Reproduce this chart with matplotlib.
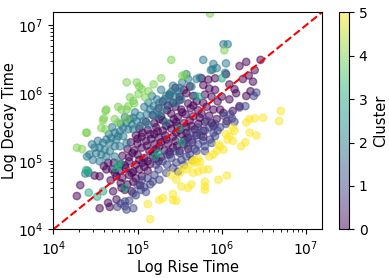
import numpy as np
import matplotlib
matplotlib.use('Agg')
import matplotlib.pyplot as plt

# log10(rise time), log10(decay time), one list per cluster
cluster0 = [
    (5.45, 6.08), (5.55, 6.05), (5.62, 6.10), (5.85, 6.07), (5.92, 6.05),
    (5.38, 5.97), (5.50, 5.95), (5.58, 6.00), (5.66, 5.96), (5.80, 5.98), (5.88, 5.95),
    (5.30, 5.88), (5.42, 5.86), (5.50, 5.90), (5.60, 5.85), (5.70, 5.88), (5.78, 5.86), (5.95, 5.88),
    (5.25, 5.78), (5.35, 5.75), (5.45, 5.80), (5.52, 5.76), (5.63, 5.78), (5.72, 5.75), (5.82, 5.80), (5.90, 5.76),
    (5.18, 5.68), (5.28, 5.66), (5.40, 5.70), (5.48, 5.65), (5.57, 5.69), (5.66, 5.66), (5.76, 5.70), (5.85, 5.67),
    (5.10, 5.58), (5.20, 5.56), (5.30, 5.60), (5.38, 5.55), (5.46, 5.58), (5.55, 5.56), (5.62, 5.60), (5.72, 5.55),
    (5.80, 5.58), (5.88, 5.56),
    (5.02, 5.48), (5.12, 5.46), (5.22, 5.50), (5.30, 5.45), (5.40, 5.48), (5.50, 5.46), (5.58, 5.50), (5.68, 5.47),
    (5.78, 5.45),
    (4.98, 5.38), (5.05, 5.36), (5.15, 5.40), (5.25, 5.35), (5.33, 5.38), (5.42, 5.36), (5.52, 5.40), (5.60, 5.35),
    (5.70, 5.38), (5.78, 5.36),
    (4.92, 5.28), (5.00, 5.26), (5.10, 5.30), (5.20, 5.25), (5.28, 5.28), (5.36, 5.26), (5.45, 5.30), (5.55, 5.25),
    (5.65, 5.28),
    (4.88, 5.18), (4.96, 5.16), (5.05, 5.20), (5.14, 5.15), (5.22, 5.18), (5.32, 5.16), (5.42, 5.20), (5.50, 5.15),
    (5.60, 5.18),
    (4.82, 5.08), (4.90, 5.06), (5.00, 5.10), (5.08, 5.05), (5.18, 5.08), (5.28, 5.06), (5.38, 5.10),
    (4.72, 4.98), (4.80, 4.96), (4.90, 5.00), (4.98, 4.95), (5.06, 4.98), (5.15, 4.96), (5.25, 5.00),
    (4.70, 4.88), (4.78, 4.86), (4.86, 4.90), (4.95, 4.85), (5.02, 4.88), (5.12, 4.86),
    (4.75, 4.78), (4.82, 4.76), (4.90, 4.80), (4.98, 4.75), (5.05, 4.78),
    (4.80, 4.68), (4.88, 4.66), (4.95, 4.70), (5.03, 4.65),
    (4.85, 4.58), (4.93, 4.56),
    # extra points in the dense core
    (5.06, 5.42), (5.16, 5.33), (5.24, 5.44), (5.34, 5.32), (5.46, 5.42), (5.56, 5.31),
    (5.11, 5.23), (5.19, 5.13), (5.26, 5.22), (5.38, 5.14), (5.47, 5.23), (4.94, 5.12),
    (5.02, 5.02), (5.12, 5.00), (5.22, 5.04), (4.85, 4.94), (4.93, 4.83), (5.08, 4.92),
    (5.34, 5.52), (5.26, 5.62), (5.43, 5.62), (5.53, 5.72), (5.64, 5.52), (5.74, 5.64),
    (5.36, 5.82), (5.47, 5.52), (5.20, 5.40), (5.00, 5.33), (5.58, 5.42), (5.66, 5.82),
    (6.46, 6.49), (6.29, 6.46), (6.21, 6.40), (6.39, 6.34), (6.32, 6.26), (6.25, 6.21),
    (6.37, 6.17), (6.15, 6.06), (6.05, 6.28), (6.09, 6.13), (6.17, 6.00), (6.29, 5.96),
    (6.34, 6.03), (6.09, 5.91), (6.21, 5.81), (6.13, 5.74), (6.02, 5.71), (5.94, 5.62),
    (6.06, 5.59), (5.90, 5.52), (5.98, 5.76), (5.76, 6.22), (5.84, 6.20), (5.92, 6.22),
    (5.78, 6.12), (6.00, 5.95),
    (4.28, 4.49), (4.32, 4.65), (4.49, 4.79), (4.55, 4.78), (4.55, 4.31), (4.65, 4.39),
    (4.67, 4.33), (4.71, 4.56), (4.75, 4.44), (4.65, 4.98), (4.63, 4.88), (4.73, 4.83),
    (4.81, 4.61), (4.60, 4.93), (4.68, 4.72),
]

cluster1 = [
    (6.41, 6.01), (6.38, 5.96), (6.28, 5.81), (6.21, 5.79), (6.10, 5.69), (6.02, 5.67),
    (6.12, 5.63), (6.05, 5.55), (6.15, 5.58),
    (5.92, 5.55), (5.85, 5.50), (5.95, 5.45), (5.90, 5.42), (5.92, 5.37), (5.86, 5.32),
    (5.88, 5.27), (5.80, 5.45), (5.75, 5.38), (5.70, 5.42), (5.78, 5.30), (5.72, 5.25),
    (5.65, 5.32), (5.60, 5.22), (5.68, 5.18), (5.80, 5.22), (5.55, 5.30), (5.98, 5.50),
    (5.82, 5.60), (5.62, 5.40), (5.72, 5.50),
    (5.70, 5.15), (5.58, 5.07), (5.46, 4.98), (5.34, 4.83), (5.26, 4.73), (5.15, 4.66),
    (5.50, 5.12), (5.40, 5.05), (5.52, 5.02), (5.62, 5.10), (5.35, 4.95), (5.42, 4.90),
    (5.25, 4.88), (5.30, 5.00), (5.20, 4.80), (5.12, 4.75), (5.18, 4.70), (5.05, 4.72),
    (5.08, 4.62), (5.00, 4.65), (5.45, 5.15), (5.35, 5.10), (5.55, 4.95), (5.65, 5.02),
    (5.80, 5.15), (5.48, 4.85), (5.22, 4.95),
    (5.04, 4.58), (4.95, 4.31), (4.85, 4.34), (4.87, 4.29), (4.80, 4.38), (4.90, 4.42),
    (4.98, 4.50), (4.85, 4.41), (4.76, 4.33), (4.95, 4.53), (5.10, 4.55),
]

cluster2 = [
    (6.02, 6.72), (6.07, 6.72), (5.78, 6.49), (5.90, 6.43), (5.89, 6.35), (5.94, 6.37),
    (6.05, 6.44), (5.87, 6.34), (6.04, 6.30), (5.74, 6.23), (5.70, 6.21), (5.58, 6.28),
    (5.60, 6.21), (5.64, 6.10), (5.53, 6.16), (5.50, 6.08), (5.42, 6.11), (5.38, 5.99),
    (5.44, 5.96), (5.34, 5.96), (5.32, 5.91), (5.26, 5.86), (5.40, 5.86), (5.19, 5.81),
    (5.23, 5.74), (5.15, 5.76), (5.11, 5.69), (5.03, 5.67), (4.95, 5.64), (4.99, 5.59),
    (4.91, 5.62), (4.87, 5.57), (4.93, 5.54), (5.07, 5.59), (5.13, 5.54), (5.03, 5.52),
    (4.83, 5.49), (4.89, 5.47), (4.79, 5.44), (4.73, 5.42), (4.77, 5.37), (4.83, 5.37),
    (4.69, 5.34), (4.75, 5.32), (4.63, 5.32), (4.59, 5.27), (4.67, 5.27), (4.73, 5.22),
    (4.55, 5.20), (4.61, 5.17), (4.49, 5.20), (4.51, 5.12), (4.43, 5.10), (4.57, 5.10),
    (4.40, 5.07), (4.47, 5.02), (4.55, 5.00), (4.63, 5.07), (4.42, 4.83), (4.38, 4.82),
    (4.67, 5.15), (4.73, 5.07), (4.79, 5.22), (4.87, 5.27), (4.95, 5.47), (5.19, 5.67),
    (5.26, 5.67), (5.32, 5.77), (5.46, 5.86), (5.52, 5.91), (5.34, 5.57), (5.17, 5.96),
    (5.23, 5.91), (5.68, 5.96), (5.28, 6.05), (5.48, 6.02),
    (5.08, 5.80), (4.97, 5.72), (4.85, 5.65), (4.80, 5.55), (4.66, 5.40), (4.53, 5.30),
    (4.46, 5.25), (4.70, 5.50), (5.13, 5.86), (5.40, 6.02),
]

cluster3 = [
    (4.74, 4.90), (4.42, 4.54), (4.59, 4.56), (4.39, 4.87), (4.41, 4.86), (5.50, 5.48),
    (5.52, 5.28), (5.73, 5.95), (4.85, 4.61), (5.21, 5.07), (6.00, 6.22), (4.77, 4.93),
    (4.79, 4.98), (5.25, 5.12), (4.52, 4.48),
]

cluster4 = [
    (5.86, 7.17), (6.03, 6.63), (5.40, 6.49), (5.53, 6.26), (5.56, 6.26), (5.28, 6.22),
    (4.87, 6.16), (4.99, 6.16), (5.19, 6.13), (5.05, 6.06), (5.13, 6.03), (5.01, 5.99),
    (5.09, 5.94), (4.91, 5.94), (4.95, 5.89), (4.87, 5.76), (4.89, 5.81), (4.77, 5.80),
    (4.81, 5.76), (4.63, 5.76), (4.62, 5.74), (4.60, 5.63), (4.59, 5.60), (4.73, 5.62),
    (4.77, 5.57), (4.87, 5.62), (4.57, 5.49), (4.62, 5.47), (4.39, 5.42), (4.40, 5.42),
    (4.28, 5.20), (4.34, 5.18), (5.02, 6.10), (4.96, 5.85),
]

cluster5 = [
    (6.70, 5.74), (6.68, 5.59), (6.49, 5.64), (6.33, 5.62), (6.29, 5.57), (6.39, 5.63),
    (6.13, 5.49), (6.15, 5.45), (6.09, 5.37), (6.13, 5.30), (6.33, 5.42), (6.41, 5.38),
    (6.28, 5.28), (6.07, 5.32), (5.96, 5.25), (5.98, 5.22), (5.90, 5.10), (5.85, 5.07),
    (6.02, 5.17), (5.94, 5.15), (5.66, 5.00), (5.70, 4.98), (5.74, 4.99), (5.62, 4.95),
    (5.78, 4.88), (5.84, 4.88), (5.72, 4.85), (5.66, 4.83), (5.54, 4.90), (5.50, 4.83),
    (5.40, 4.80), (5.46, 4.73), (5.52, 4.63), (5.60, 4.61), (5.64, 4.66), (5.80, 4.63),
    (5.80, 4.70), (5.96, 4.73), (6.06, 4.79), (5.80, 4.58), (5.42, 4.52), (5.30, 4.46),
    (5.26, 4.43), (5.12, 4.37), (5.15, 4.15), (5.42, 4.43), (5.46, 4.42), (6.23, 5.22),
    (5.68, 5.02), (5.72, 5.04), (5.58, 4.88), (6.05, 5.40),
]

clusters = [cluster0, cluster1, cluster2, cluster3, cluster4, cluster5]

rise = []
decay = []
label = []
for k, pts in enumerate(clusters):
    for xl, yl in pts:
        rise.append(10 ** xl)
        decay.append(10 ** yl)
        label.append(k)

lim = 1.55e7

fig = plt.figure(figsize=(3.89, 2.78), dpi=100)
ax = fig.add_axes([0.137, 0.175, 0.691, 0.781])
cax = fig.add_axes([0.871, 0.175, 0.026, 0.781])

sc = ax.scatter(rise, decay, c=label, cmap='viridis', alpha=0.5, s=28, vmin=0, vmax=5)
ax.plot([1e4, lim], [1e4, lim], 'r--')
ax.set_xscale('log')
ax.set_yscale('log')
ax.set_xlim(1e4, lim)
ax.set_ylim(1e4, lim)
ax.set_xlabel('Log Rise Time', fontsize=10.5, labelpad=2)
ax.set_ylabel('Log Decay Time', fontsize=10.5, labelpad=1)

cb = fig.colorbar(sc, cax=cax)
cb.set_label('Cluster', fontsize=10.5)

fig.savefig('out.png', dpi=100)
